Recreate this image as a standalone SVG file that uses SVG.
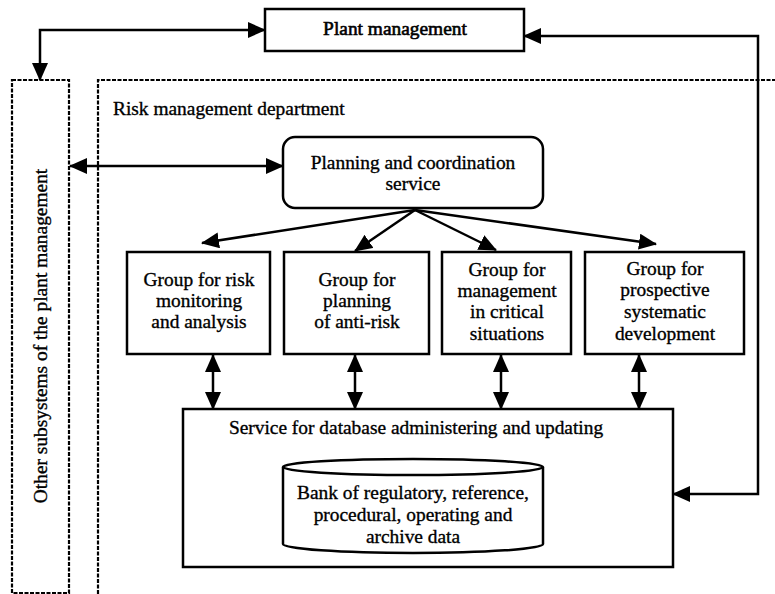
<svg xmlns="http://www.w3.org/2000/svg" width="775" height="594" viewBox="0 0 775 594">
<style>
.box{fill:#fff;stroke:#000;stroke-width:2.5}
.dash{fill:none;stroke:#000;stroke-width:2.2;stroke-dasharray:4 1.5}
.t{font-family:'Liberation Serif','Times New Roman',serif;font-size:19.4px;fill:#000;stroke:#000;stroke-width:0.35;text-anchor:middle}
.c{fill:none;stroke:#000;stroke-width:2.5}
</style>
<defs>
<marker id="ah" markerUnits="userSpaceOnUse" markerWidth="18" markerHeight="16" refX="17" refY="8" orient="auto-start-reverse" viewBox="0 0 18 16">
<path d="M0,0 L18,8 L0,16 z" fill="#000"/>
</marker>
</defs>
<rect width="775" height="594" fill="#fff"/>
<g id="other-subsystems">
<rect class="dash" x="12" y="80" width="57" height="513"/>
<text class="t" transform="translate(46.5,336) rotate(-90)">Other subsystems of the plant management</text>
</g>
<g id="risk-department">
<path class="dash" d="M98,594 V80 H775"/>
<text class="t" x="113" y="115" style="text-anchor:start">Risk management department</text>
</g>
<g id="plant-management">
<rect class="box" x="265" y="9" width="259" height="42"/>
<text class="t" x="395" y="35" style="stroke-width:0.6">Plant management</text>
</g>
<g id="planning-coordination">
<rect class="box" x="283" y="137" width="260" height="71" rx="12"/>
<text class="t" x="413" y="169">Planning and coordination</text>
<text class="t" x="413" y="190">service</text>
</g>
<g id="group-risk-monitoring">
<rect class="box" x="127" y="252" width="143" height="102"/>
<text class="t" x="199" y="286">Group for risk</text>
<text class="t" x="199" y="307">monitoring</text>
<text class="t" x="199" y="328">and analysis</text>
</g>
<g id="group-planning">
<rect class="box" x="284" y="252" width="145" height="102"/>
<text class="t" x="357" y="286">Group for</text>
<text class="t" x="357" y="307">planning</text>
<text class="t" x="357" y="328">of anti-risk</text>
</g>
<g id="group-critical">
<rect class="box" x="442" y="252" width="129" height="102"/>
<text class="t" x="507" y="276">Group for</text>
<text class="t" x="507" y="297">management</text>
<text class="t" x="507" y="318">in critical</text>
<text class="t" x="507" y="340">situations</text>
</g>
<g id="group-prospective">
<rect class="box" x="585" y="252" width="159" height="102"/>
<text class="t" x="665" y="275">Group for</text>
<text class="t" x="665" y="296">prospective</text>
<text class="t" x="665" y="318">systematic</text>
<text class="t" x="665" y="340">development</text>
</g>
<g id="database-service">
<rect class="box" x="183" y="409" width="490" height="158"/>
<text class="t" x="416" y="434">Service for database administering and updating</text>
</g>
<g id="data-bank">
<path class="box" d="M283,467 V544 A130,9 0 0 0 543,544 V467"/>
<ellipse class="box" cx="413" cy="467" rx="130" ry="8"/>
<text class="t" x="413" y="499">Bank of regulatory, reference,</text>
<text class="t" x="413" y="521">procedural, operating and</text>
<text class="t" x="413" y="543">archive data</text>
</g>
<g id="connectors">
<path class="c" d="M40,80 V30 H265" marker-start="url(#ah)" marker-end="url(#ah)"/>
<path class="c" d="M524,36 H758 V494 H673" marker-start="url(#ah)" marker-end="url(#ah)"/>
<path class="c" d="M70,166 H283" marker-start="url(#ah)" marker-end="url(#ah)"/>
<path class="c" d="M415,210 L202,243" marker-end="url(#ah)"/>
<path class="c" d="M415,210 L355,251" marker-end="url(#ah)"/>
<path class="c" d="M415,210 L496,250" marker-end="url(#ah)"/>
<path class="c" d="M415,210 L656,244" marker-end="url(#ah)"/>
<path class="c" d="M213,355 V409" marker-start="url(#ah)" marker-end="url(#ah)"/>
<path class="c" d="M355,355 V409" marker-start="url(#ah)" marker-end="url(#ah)"/>
<path class="c" d="M501,355 V409" marker-start="url(#ah)" marker-end="url(#ah)"/>
<path class="c" d="M639,355 V409" marker-start="url(#ah)" marker-end="url(#ah)"/>
</g>
</svg>
